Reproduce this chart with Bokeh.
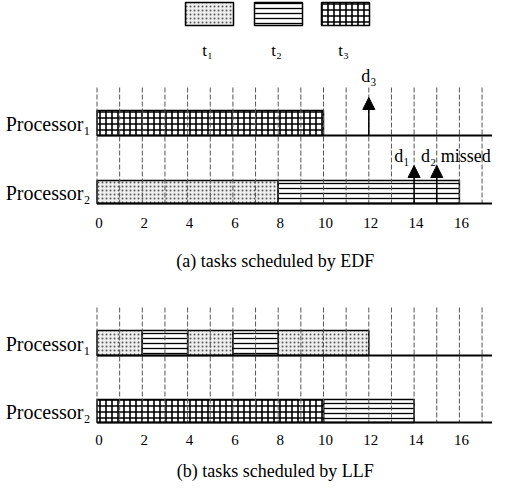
from bokeh.plotting import figure
from bokeh.models import Range1d, ColumnDataSource, Arrow, NormalHead
from bokeh.core.properties import value
from bokeh.embed import file_html
from bokeh.resources import INLINE

# ---------------- data ----------------
tasks = ["t1", "t2", "t3"]
task_labels = ["t\u2081", "t\u2082", "t\u2083"]

# EDF schedule
edf_p1_start = [0]
edf_p1_end = [10]
edf_p1_task = ["t3"]
edf_p2_start = [0, 8]
edf_p2_end = [8, 16]
edf_p2_task = ["t1", "t2"]

# LLF schedule
llf_p1_start = [0, 2, 4, 6, 8]
llf_p1_end = [2, 4, 6, 8, 12]
llf_p1_task = ["t1", "t2", "t1", "t2", "t1"]
llf_p2_start = [0, 10]
llf_p2_end = [10, 14]
llf_p2_task = ["t3", "t2"]

# deadlines (EDF panel)
dl_x = [12, 14, 15]
dl_row = ["p1", "p2", "p2"]
dl_text = ["d\u2083", "d\u2081", "d\u2082 missed"]

tick_vals = [0, 2, 4, 6, 8, 10, 12, 14, 16]
grid_vals = list(range(0, 18))
captions = ["(a)  tasks scheduled by EDF", "(b)  tasks scheduled by LLF"]
proc_labels = ["Processor\u2081", "Processor\u2082"]

# ---------------- layout ----------------
W, H = 492, 484
X0 = 96.5      # px of time 0 inside the figure
UNIT = 22.65   # px per time unit
xs = -X0 / UNIT
xe = xs + W / UNIT

def px2x(px_fig):
    return (px_fig - X0) / UNIT

FONT = value("Liberation Serif")

styles = {
    "t1": dict(fill_color="#efefef", hatch_pattern="dot", hatch_scale=4, hatch_color="#555555", hatch_weight=1.0),
    "t2": dict(fill_color="white", hatch_pattern="horizontal_line", hatch_scale=5, hatch_color="black", hatch_weight=1.3),
    "t3": dict(fill_color="white", hatch_pattern="cross", hatch_scale=6, hatch_color="black", hatch_weight=1.6),
}

p = figure(width=W, height=H, output_backend="svg", toolbar_location=None,
           x_range=Range1d(xs, xe), y_range=Range1d(H, 0), min_border=0)
p.axis.visible = False
p.grid.visible = False
p.outline_line_color = None
p.background_fill_color = "white"

# panel rows: (top, bottom) in figure px
panels = [
    dict(rows=[(110, 135, edf_p1_start, edf_p1_end, edf_p1_task),
               (180, 203, edf_p2_start, edf_p2_end, edf_p2_task)],
         dash=(87, 203), tick_y=222, cap_y=260),
    dict(rows=[(330, 355, llf_p1_start, llf_p1_end, llf_p1_task),
               (399, 422, llf_p2_start, llf_p2_end, llf_p2_task)],
         dash=(307, 422), tick_y=439, cap_y=470),
]

for pan in panels:
    for i, (top, bot, st, en, tk) in enumerate(pan["rows"]):
        for t in tasks:
            idx = [k for k, v in enumerate(tk) if v == t]
            if not idx:
                continue
            src = ColumnDataSource(dict(left=[st[k] for k in idx], right=[en[k] for k in idx],
                                        top=[top] * len(idx), bottom=[bot] * len(idx)))
            p.quad(left="left", right="right", top="top", bottom="bottom", source=src,
                   line_color="black", line_width=1.5, **styles[t])
    # dashed verticals
    p.segment(x0=grid_vals, x1=grid_vals, y0=[pan["dash"][0]] * len(grid_vals),
              y1=[pan["dash"][1]] * len(grid_vals), line_color="#555555", line_width=1,
              line_dash="5 2")
    for i, (top, bot, st, en, tk) in enumerate(pan["rows"]):
        p.segment(x0=[0], x1=[xe], y0=[bot], y1=[bot], line_color="black", line_width=2.2)
        p.text(x=[-0.29], y=[(top + bot) / 2 + 1], text=[proc_labels[i]], text_font=FONT,
               text_font_size="20px", text_align="right", text_baseline="middle", text_color="black")
    p.text(x=tick_vals, y=[pan["tick_y"]] * len(tick_vals), text=[str(v) for v in tick_vals],
           text_font=FONT, text_font_size="15px", text_align="center", text_baseline="middle",
           x_offset=2, text_color="black")

for k, pan in enumerate(panels):
    p.text(x=[px2x(277)], y=[pan["cap_y"]], text=[captions[k]], text_font=FONT,
           text_font_size="18px", text_align="center", text_baseline="middle", text_color="black")

# deadline arrows
row_base = {"p1": 135, "p2": 203}
dsrc = ColumnDataSource(dict(x=dl_x, y0=[row_base[r] for r in dl_row],
                             y1=[row_base[r] - 38 for r in dl_row]))
p.add_layout(Arrow(end=NormalHead(size=12, fill_color="black", line_color="black"),
                   x_start="x", y_start="y0", x_end="x", y_end="y1", source=dsrc,
                   line_color="black", line_width=1.5))
p.text(x=[dl_x[0]], y=[75], text=[dl_text[0]], text_font=FONT, text_font_size="18px",
       text_align="center", text_baseline="middle")
p.text(x=[dl_x[1] - 0.2], y=[155], text=[dl_text[1]], text_font=FONT, text_font_size="18px",
       text_align="right", text_baseline="middle")
p.text(x=[dl_x[2] - 0.7], y=[155], text=[dl_text[2]], text_font=FONT, text_font_size="18px",
       text_align="left", text_baseline="middle")

# legend
box_left = [185, 254, 321]
box_w = 48
for i, t in enumerate(tasks):
    p.quad(left=[px2x(box_left[i])], right=[px2x(box_left[i] + box_w)], top=[2], bottom=[25],
           line_color="black", line_width=1.5, **styles[t])
    p.text(x=[px2x(box_left[i] + box_w / 2 - 2)], y=[50], text=[task_labels[i]], text_font=FONT,
           text_font_size="17px", text_align="center", text_baseline="middle")

open("out.html", "w").write(file_html(p, INLINE))
